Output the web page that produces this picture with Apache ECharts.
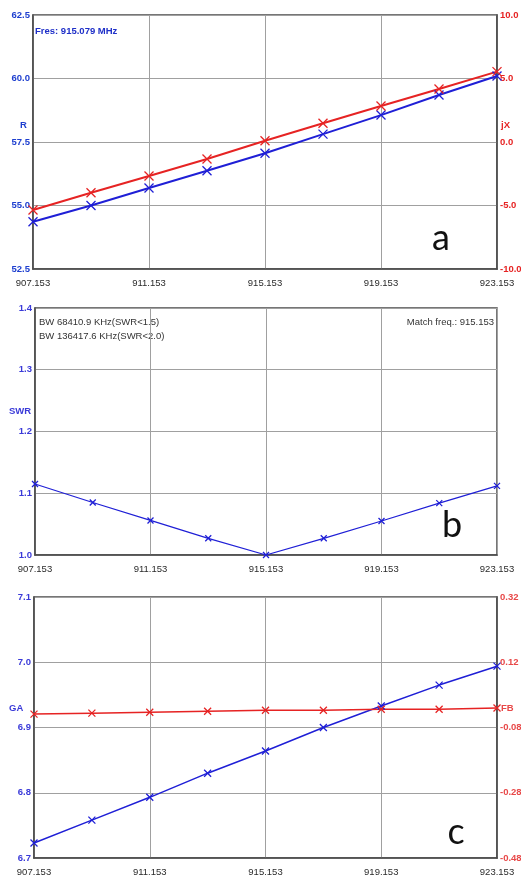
<!DOCTYPE html>
<html>
<head>
<meta charset="utf-8">
<script src="https://cdn.jsdelivr.net/npm/echarts@6/dist/echarts.min.js"></script>
<style>html,body{margin:0;padding:0;background:#fff;}#c{width:521px;height:879px;}</style>
</head>
<body>
<div id="c"></div>
<script>
// ---- data ----
const freqs = ['907.153','909.153','911.153','913.153','915.153','917.153','919.153','921.153','923.153'];
const R   = [54.36, 55.0, 55.69, 56.37, 57.06, 57.81, 58.56, 59.35, 60.1];
const jX  = [-5.35, -4.0, -2.68, -1.34, 0.1, 1.47, 2.83, 4.17, 5.54];
const SWR = [1.115, 1.085, 1.056, 1.027, 1.0, 1.027, 1.055, 1.084, 1.112];
const GA  = [6.723, 6.758, 6.793, 6.83, 6.864, 6.90, 6.933, 6.965, 6.994];
const FB  = [-0.039, -0.036, -0.033, -0.03, -0.027, -0.027, -0.024, -0.024, -0.02];

const FONT = "'Liberation Sans',Arial,sans-serif";
const FS = 9.5;
const BLUE = '#1f1fd6', RED = '#e62323', AX = '#4a4a4a', GRIDC = '#a0a0a0';
const XMARK = 'path://M0,0L10,10M10,0L0,10';

const chart = echarts.init(document.getElementById('c'), null, {renderer: 'canvas'});

function xAxis(gi) {
  return {
    type: 'category', gridIndex: gi, data: freqs, boundaryGap: false,
    axisLine: {onZero: false, lineStyle: {color: AX, width: 1.5}},
    axisTick: {show: false},
    axisLabel: {interval: 1, color: '#2a2a2a', fontFamily: FONT, fontSize: FS, margin: 9},
    splitLine: {show: true, interval: 1, lineStyle: {color: GRIDC, width: 1}}
  };
}
function yAxis(gi, pos, min, max, interval, dec, color, split) {
  return {
    type: 'value', gridIndex: gi, position: pos, min: min, max: max, interval: interval,
    axisLine: {show: true, onZero: false, lineStyle: {color: AX, width: 1.5}},
    axisTick: {show: false},
    axisLabel: {color: color, fontFamily: FONT, fontSize: FS, fontWeight: 'bold', margin: 3,
      formatter: v => Number(v).toFixed(dec)},
    splitLine: {show: split, lineStyle: {color: GRIDC, width: 1}}
  };
}
function lineSeries(name, data, xi, yi, color, w, size) {
  return {
    name: name, type: 'line', xAxisIndex: xi, yAxisIndex: yi, data: data,
    symbol: XMARK, symbolSize: size, showSymbol: true,
    lineStyle: {color: color, width: w},
    itemStyle: {color: color, borderColor: color, borderWidth: 1.3},
    emphasis: {disabled: true}, animation: false
  };
}
function txt(text, x, y, opts) {
  return {type: 'text', x: x, y: y, silent: true, style: Object.assign({
    text: text, fill: '#222', font: FS + 'px ' + FONT, align: 'left', verticalAlign: 'middle'}, opts || {})};
}

const gridStyle = {show: true, borderColor: AX, borderWidth: 1.5, backgroundColor: 'transparent',
  containLabel: false, outerBoundsMode: 'none'};
const BIG = '36px Lato,"Open Sans",sans-serif';

chart.setOption({
  animation: false,
  backgroundColor: '#fff',
  grid: [
    Object.assign({left: 33, top: 15, width: 464, height: 254}, gridStyle),
    Object.assign({left: 35, top: 308, width: 462, height: 247}, gridStyle),
    Object.assign({left: 34, top: 597, width: 463, height: 261}, gridStyle)
  ],
  xAxis: [xAxis(0), xAxis(1), xAxis(2)],
  yAxis: [
    yAxis(0, 'left', 52.5, 62.5, 2.5, 1, '#1e3fcf', true),
    yAxis(0, 'right', -10, 10, 5, 1, RED, false),
    yAxis(1, 'left', 1.0, 1.4, 0.1, 1, '#3a3ad8', true),
    yAxis(2, 'left', 6.7, 7.1, 0.1, 1, '#3a3ad8', true),
    yAxis(2, 'right', -0.48, 0.32, 0.2, 2, '#e84848', false)
  ],
  series: [
    lineSeries('R', R, 0, 0, BLUE, 2, 9),
    lineSeries('jX', jX, 0, 1, RED, 2, 9),
    lineSeries('SWR', SWR, 1, 2, BLUE, 1.2, 6),
    lineSeries('GA', GA, 2, 3, BLUE, 1.5, 7),
    lineSeries('FB', FB, 2, 4, RED, 1.5, 7)
  ],
  graphic: [
    txt('Fres: 915.079 MHz', 35, 31, {fill: '#1e2fc8', font: 'bold ' + FS + 'px ' + FONT}),
    txt('R', 20, 125, {fill: '#1e3fcf', font: 'bold ' + FS + 'px ' + FONT}),
    txt('jX', 501, 125, {fill: RED, font: 'bold ' + FS + 'px ' + FONT}),
    txt('a', 441, 238, {fill: '#111', font: BIG, align: 'center'}),
    txt('BW 68410.9 KHz(SWR<1.5)', 39, 322, {fill: '#333'}),
    txt('BW 136417.6 KHz(SWR<2.0)', 39, 336, {fill: '#333'}),
    txt('Match freq.: 915.153', 494, 322, {fill: '#333', align: 'right'}),
    txt('SWR', 9, 411, {fill: '#3a3ad8', font: 'bold ' + FS + 'px ' + FONT}),
    txt('b', 452, 525, {fill: '#111', font: BIG, align: 'center'}),
    txt('GA', 9, 708, {fill: '#3a3ad8', font: 'bold ' + FS + 'px ' + FONT}),
    txt('FB', 501, 708, {fill: '#e84848', font: 'bold ' + FS + 'px ' + FONT}),
    txt('c', 456, 832, {fill: '#111', font: BIG, align: 'center'})
  ]
});
</script>
</body>
</html>
